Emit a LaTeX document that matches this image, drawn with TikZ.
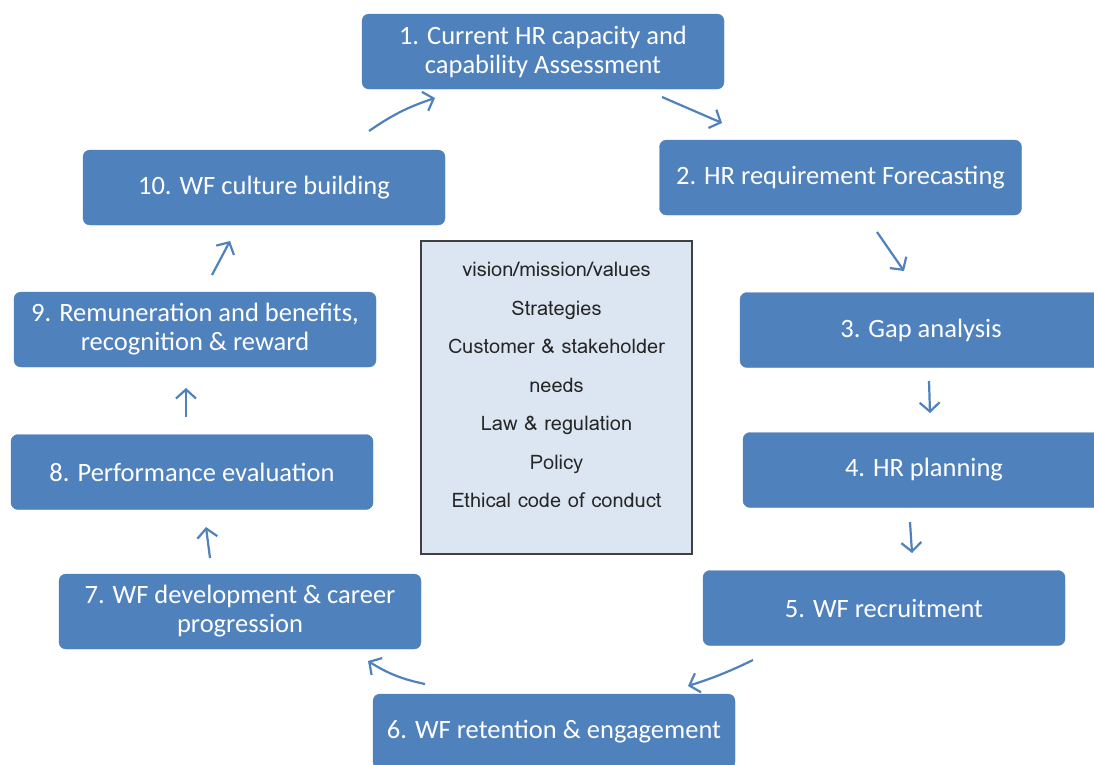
\documentclass[tikz,border=0pt]{standalone}
\usepackage{fontspec}
\setmainfont{Carlito}
\newfontfamily\midfont{Loma}
\usetikzlibrary{arrows.meta}
\definecolor{hrC}{HTML}{4F81BD}
\definecolor{midC}{HTML}{DCE6F2}
\tikzstyle{hrbox}=[draw=hrC, fill=hrC, shape=rectangle, rounded corners=7pt, minimum width=362pt, minimum height=75pt, inner sep=0pt, align=center, text=white, font=\fontsize{26.5pt}{29pt}\selectfont]
\tikzstyle{midbox}=[draw=black!75, fill=midC, shape=rectangle, line width=1.2pt, minimum width=271pt, minimum height=313pt, inner sep=0pt, align=center, text=black!85, font=\midfont\fontsize{20pt}{38.5pt}\selectfont]
\tikzstyle{harrow}=[line width=2.2pt, color=hrC, -{Straight Barb[length=9pt,width=20pt,line width=2.2pt]}]
\def\hrbox{\node[style=hrbox]}
\def\midbox{\node[style=midbox]}
\def\harrow{\draw[style=harrow]}

\begin{document}
\begin{tikzpicture}[x=1pt, y=-1pt]
      \useasboundingbox (0,0) rectangle (1094,764);
      \begin{scope}
      \clip (0,0) rectangle (1094,764);
      % boxes
      \hrbox (box1)  at (543,51.5)   {1. Current HR capacity and\\capability Assessment};
      \hrbox (box2)  at (840.5,177.5) {2. HR requirement Forecasting};
      \hrbox (box3)  at (921,330)    {3. Gap analysis};
      \hrbox (box4)  at (924,470)    {4. HR planning};
      \hrbox (box5)  at (884,608)    {5. WF recruitment};
      \hrbox (box6)  at (554,731.5)  {6. WF retention \& engagement};
      \hrbox (box7)  at (240,611.5)  {7. WF development \& career\\progression};
      \hrbox (box8)  at (192,472)    {8. Performance evaluation};
      \hrbox (box9)  at (195,329.5)  {9. Remuneration and benefits,\\recognition \& reward};
      \hrbox (box10) at (264,187.5)  {10. WF culture building};
      \end{scope}
      % centre
      \midbox (mid) at (556.5,397.5) {vision/mission/values\\Strategies\\Customer \& stakeholder\\needs\\Law \& regulation\\Policy\\Ethical code of conduct\\[-14pt]\mbox{}};
      % arrow ends
      \coordinate (a1s) at (662,97);   \coordinate (a1e) at (722,123);
      \coordinate (a2s) at (877,232);  \coordinate (a2e) at (904,271);
      \coordinate (a3s) at (929,381);  \coordinate (a3e) at (930,413);
      \coordinate (a4s) at (910,522);  \coordinate (a4e) at (912,553);
      \coordinate (a5s) at (753,660);  \coordinate (a5e) at (688,686);
      \coordinate (a6s) at (425,684);  \coordinate (a6e) at (368,661);
      \coordinate (a7s) at (210,558);  \coordinate (a7e) at (206,527);
      \coordinate (a8s) at (186,417);  \coordinate (a8e) at (186,388);
      \coordinate (a9s) at (212,275);  \coordinate (a9e) at (230,241);
      \coordinate (a10s) at (369,131); \coordinate (a10e) at (435,98);

      \harrow (a1s) -- (a1e);
      \harrow (a2s) -- (a2e);
      \harrow (a3s) -- (a3e);
      \harrow (a4s) -- (a4e);
      \harrow (a5s) to [bend left=4] (a5e);
      \harrow (a6s) to [bend left=10] (a6e);
      \harrow (a7s) -- (a7e);
      \harrow (a8s) -- (a8e);
      \harrow (a9s) -- (a9e);
      \harrow (a10s) to [bend left=8] (a10e);
\end{tikzpicture}
\end{document}
